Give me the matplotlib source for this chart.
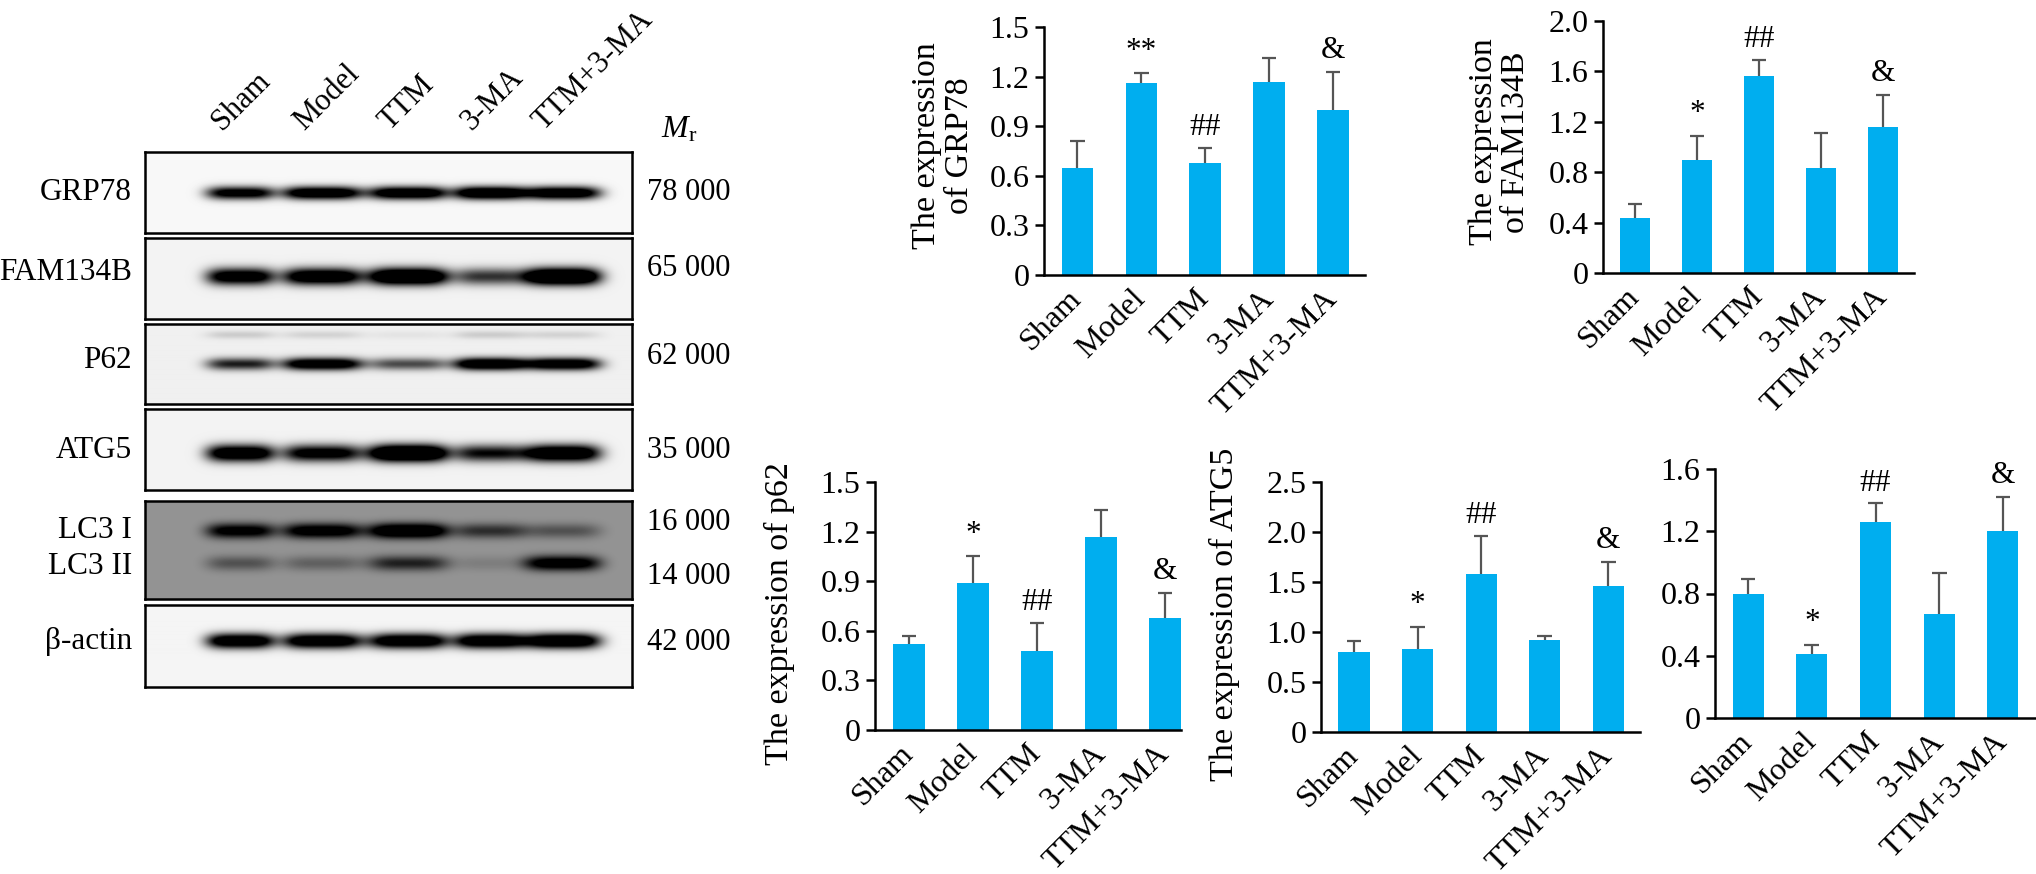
import numpy as np
import matplotlib
matplotlib.use('Agg')
import matplotlib.pyplot as plt

plt.rcParams['font.family'] = ['Liberation Serif', 'DejaVu Serif']
plt.rcParams['mathtext.fontset'] = 'custom'
plt.rcParams['mathtext.rm'] = 'Liberation Serif'
plt.rcParams['mathtext.it'] = 'Liberation Serif:italic'

# ---------------- data ----------------
groups = ['Sham', 'Model', 'TTM', '3-MA', 'TTM+3-MA']

grp78_mean = [0.65, 1.16, 0.68, 1.17, 1.00]
grp78_sd = [0.16, 0.06, 0.09, 0.14, 0.23]
grp78_marks = ['', '**', '##', '', '&']

fam_mean = [0.44, 0.90, 1.56, 0.83, 1.16]
fam_sd = [0.11, 0.19, 0.13, 0.28, 0.25]
fam_marks = ['', '*', '##', '', '&']

p62_mean = [0.52, 0.89, 0.48, 1.17, 0.68]
p62_sd = [0.05, 0.16, 0.17, 0.16, 0.15]
p62_marks = ['', '*', '##', '', '&']

atg5_mean = [0.80, 0.83, 1.58, 0.92, 1.46]
atg5_sd = [0.11, 0.22, 0.38, 0.04, 0.24]
atg5_marks = ['', '*', '##', '', '&']

lc3_mean = [0.80, 0.41, 1.26, 0.67, 1.20]
lc3_sd = [0.09, 0.06, 0.12, 0.26, 0.22]
lc3_marks = ['', '*', '##', '', '&']

grp78_ticks = [0, 0.3, 0.6, 0.9, 1.2, 1.5]
fam_ticks = [0, 0.4, 0.8, 1.2, 1.6, 2.0]
p62_ticks = [0, 0.3, 0.6, 0.9, 1.2, 1.5]
atg5_ticks = [0, 0.5, 1.0, 1.5, 2.0, 2.5]
lc3_ticks = [0, 0.4, 0.8, 1.2, 1.6]

# western blot band darkness per lane (Sham, Model, TTM, 3-MA, TTM+3-MA)
blot_rows = ['GRP78', 'FAM134B', 'P62', 'ATG5', 'LC3 I', 'LC3 II', 'β-actin']
blot_mr = ['78 000', '65 000', '62 000', '35 000', '16 000', '14 000', '42 000']
band_grp78 = [1.2, 1.4, 1.4, 1.5, 1.4]
band_fam = [1.3, 1.4, 1.7, 0.8, 1.8]
band_p62 = [0.9, 1.4, 0.7, 1.5, 1.4]
band_p62_top = [0.15, 0.12, 0.05, 0.15, 0.12]
band_atg5 = [1.4, 1.2, 1.8, 1.0, 1.5]
band_lc3i = [1.2, 1.3, 1.6, 0.7, 0.45]
band_lc3ii = [0.45, 0.35, 0.8, 0.15, 1.3]
band_actin = [1.4, 1.4, 1.4, 1.4, 1.5]

# ---------------- figure ----------------
W, H = 2036, 874
fig = plt.figure(figsize=(W / 100, H / 100), dpi=100)


def prect(x0, y0, x1, y1):
    return [x0 / W, 1 - y1 / H, (x1 - x0) / W, (y1 - y0) / H]


BLUE = '#00AEEF'
ERR = '#555555'
offsets = {'*': 16, '**': 16, '#': 14.5, '##': 14.5, '&': 15.5}


def bar_panel(rect, mean, sd, marks, ticks, xlim, ylabel, lab_x, lab_y):
    ax = fig.add_axes(rect)
    x = np.arange(len(groups))
    mean = np.asarray(mean)
    tops = mean + np.asarray(sd)
    ax.vlines(x, mean, tops, color=ERR, lw=1.6, zorder=3)
    ax.hlines(tops, x - 0.115, x + 0.115, color=ERR, lw=1.6, zorder=3)
    ax.bar(x, mean, width=0.49, color=BLUE, zorder=2)
    for xi, t, m in zip(x, tops, marks):
        if m:
            ax.annotate(m, (xi, t), xytext=(0, offsets[m]), textcoords='offset points',
                        ha='center', va='center', fontsize=22.5)
    ax.set_xlim(*xlim)
    ax.set_ylim(0, ticks[-1])
    ax.set_yticks(ticks)
    ax.set_yticklabels(['0'] + [f'{t:.1f}' for t in ticks[1:]], fontsize=23)
    ax.set_xticks(x)
    ax.set_xticklabels(groups, rotation=45, ha='right', va='center',
                       rotation_mode='anchor', fontsize=23)
    ax.tick_params(axis='x', length=0, pad=14)
    ax.tick_params(axis='y', length=6.5, width=1.8, pad=4, direction='out')
    for s in ['top', 'right']:
        ax.spines[s].set_visible(False)
    for s in ['left', 'bottom']:
        ax.spines[s].set_linewidth(1.8)
    ax.patch.set_alpha(0)
    if ylabel:
        ax.set_ylabel(ylabel, fontsize=24.5, linespacing=1.1)
        ax.yaxis.set_label_coords(lab_x, lab_y)
    return ax


bar_panel(prect(1044, 27, 1365, 275), grp78_mean, grp78_sd, grp78_marks, grp78_ticks,
          (-0.52, 4.5), 'The expression\nof GRP78', -0.215, 0.52)
bar_panel(prect(1603, 21, 1914, 273), fam_mean, fam_sd, fam_marks, fam_ticks,
          (-0.52, 4.5), 'The expression\nof FAM134B', -0.23, 0.52)
bar_panel(prect(875, 482, 1181, 730), p62_mean, p62_sd, p62_marks, p62_ticks,
          (-0.53, 4.25), 'The expression of p62', -0.26, 0.47)
bar_panel(prect(1321, 482, 1640, 732), atg5_mean, atg5_sd, atg5_marks, atg5_ticks,
          (-0.52, 4.5), 'The expression of ATG5', -0.254, 0.47)
bar_panel(prect(1715, 469, 2036, 718), lc3_mean, lc3_sd, lc3_marks, lc3_ticks,
          (-0.52, 4.52), None, 0, 0)

# ---------------- western blot ----------------
BX0, BX1 = 145, 632
lane_frac = [0.195, 0.363, 0.540, 0.708, 0.856]
lane_hw = [34, 40, 40, 36, 38]


def blot_panel(y0, y1, bg, rows):
    ax = fig.add_axes(prect(BX0, y0, BX1, y1))
    h = int(y1 - y0)
    w = int(BX1 - BX0)
    yy, xx = np.mgrid[0:h, 0:w].astype(float)
    dark = np.zeros((h, w))
    for yf, ints, sy in rows:
        for cx, a, hw in zip(lane_frac, ints, lane_hw):
            dark += a * np.exp(-np.abs((xx - cx * w) / hw) ** 4) * \
                np.exp(-((yy - yf * h) / sy) ** 2)
    img = bg * (1 - np.clip(dark, 0, 1))
    ax.imshow(img, cmap='gray', vmin=0, vmax=1, aspect='auto', interpolation='bilinear')
    ax.set_xticks([])
    ax.set_yticks([])
    for s in ax.spines.values():
        s.set_linewidth(1.8)
        s.set_color('black')
    return ax


blot_panel(152, 233, 0.97, [(0.5, band_grp78, 6.5)])
blot_panel(238, 319, 0.95, [(0.47, band_fam, 8.5)])
blot_panel(324, 404, 0.94, [(0.5, band_p62, 6), (0.14, band_p62_top, 4)])
blot_panel(409, 490, 0.95, [(0.54, band_atg5, 8.5)])
blot_panel(501, 599, 0.58, [(0.30, band_lc3i, 7.5), (0.63, band_lc3ii, 7.5)])
blot_panel(605, 687, 0.96, [(0.44, band_actin, 7.5)])

left_y = [193, 273, 361, 450, 531, 566, 641]
right_y = [193, 268, 356, 450, 523, 577, 642]
for lab, yl, mr, yr in zip(blot_rows, left_y, blot_mr, right_y):
    fig.text(132 / W, 1 - yl / H, lab, ha='right', va='center', fontsize=22.5)
    fig.text(647 / W, 1 - yr / H, mr, ha='left', va='center', fontsize=22)

fig.text(661 / W, 1 - 130 / H, r'$M_{\mathrm{r}}$', ha='left', va='center', fontsize=23)

for lf, g in zip(lane_frac, groups):
    xl = BX0 + lf * (BX1 - BX0) - 18
    fig.text(xl / W, 1 - 131 / H, g, rotation=45, rotation_mode='anchor',
             ha='left', va='baseline', fontsize=22)

fig.savefig('out.png', dpi=100)
